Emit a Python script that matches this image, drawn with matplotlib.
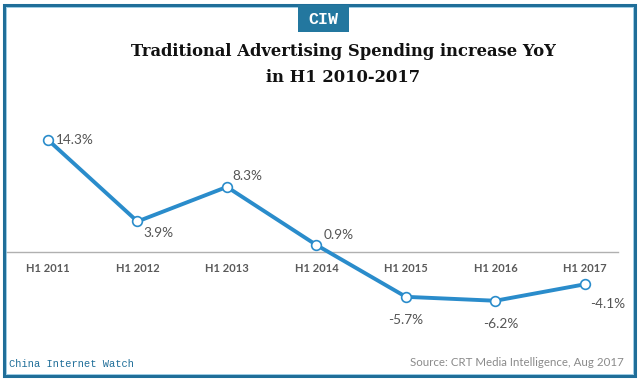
import matplotlib
matplotlib.use('Agg')
import matplotlib.pyplot as plt
from matplotlib.patches import Rectangle

#-----------------DATA-----------------
periods = ['H1 2011', 'H1 2012', 'H1 2013', 'H1 2014', 'H1 2015', 'H1 2016', 'H1 2017']
growth = [14.3, 3.9, 8.3, 0.9, -5.7, -6.2, -4.1]
# label offsets (points) and alignment per point
label_offsets = [(6, 0), (4, -8), (4, 8), (5, 7), (0, -17), (4, -17), (4, -14)]
label_align = ['left', 'left', 'left', 'left', 'center', 'center', 'left']

#-----------------FIGURE-----------------
W, H = 640, 381
fig = plt.figure(figsize=(W / 100, H / 100), dpi=100)
fig.patch.set_facecolor('white')

# outer frame
fig.patches.append(Rectangle((4 / W, 5 / H), 631 / W, 371 / H, transform=fig.transFigure,
                             fill=False, edgecolor='#1f6e99', linewidth=2.2))
fig.patches.append(Rectangle((6 / W, 7 / H), 627 / W, 367 / H, transform=fig.transFigure,
                             fill=False, edgecolor='#8cc3e0', linewidth=0.6))

# CIW badge
fig.patches.append(Rectangle((298 / W, 1 - 32 / H), 51 / W, 27 / H, transform=fig.transFigure,
                             facecolor='#23779f', edgecolor='none'))
fig.text(323.5 / W, 1 - 19 / H, 'CIW', color='white', fontsize=12, ha='center', va='center',
         family='Liberation Mono', fontweight='bold')

# title
fig.text(343 / W, 1 - 52 / H, 'Traditional Advertising Spending increase YoY', fontsize=11.8,
         ha='center', va='center', family='DejaVu Serif', fontweight='bold', color='#111111')
fig.text(343 / W, 1 - 77 / H, 'in H1 2010-2017', fontsize=11.8,
         ha='center', va='center', family='DejaVu Serif', fontweight='bold', color='#111111')

#-----------------AXES-----------------
ax = fig.add_axes([5 / W, 1 - 340 / H, 613 / W, 230 / H])
x = list(range(len(periods)))
ax.plot(x, growth, color='#2a8ccb', linewidth=2.8, marker='o', markersize=7,
        markerfacecolor='white', markeredgecolor='#2a8ccb', markeredgewidth=1.2, zorder=3)

ax.set_xlim(-0.48, 6.37)
ax.set_ylim(-11.2, 18.1)

for spine in ['top', 'right', 'left']:
    ax.spines[spine].set_visible(False)
ax.spines['bottom'].set_position(('data', 0))
ax.spines['bottom'].set_color('#b0b0b0')
ax.spines['bottom'].set_linewidth(1)
ax.set_yticks([])
ax.set_xticks(x)
ax.set_xticklabels(periods, fontsize=8, color='#5a5a5a', family='Lato', fontweight='bold')
ax.tick_params(axis='x', length=0, pad=8)

for xi, v, off, ha in zip(x, growth, label_offsets, label_align):
    ax.annotate(f'{v}%', (xi, v), xytext=off, textcoords='offset points', ha=ha, va='center',
                fontsize=9.8, color='#555555', family='Lato')

# footer
fig.text(9 / W, 1 - 364 / H, 'China Internet Watch', fontsize=7.5, color='#1f6e99',
         family='Liberation Mono', va='center', ha='left')
fig.text(624 / W, 1 - 363 / H, 'Source: CRT Media Intelligence, Aug 2017', fontsize=8.3,
         color='#8a8a8a', family='Lato', va='center', ha='right')

fig.savefig('out.png', dpi=100, facecolor='white')
